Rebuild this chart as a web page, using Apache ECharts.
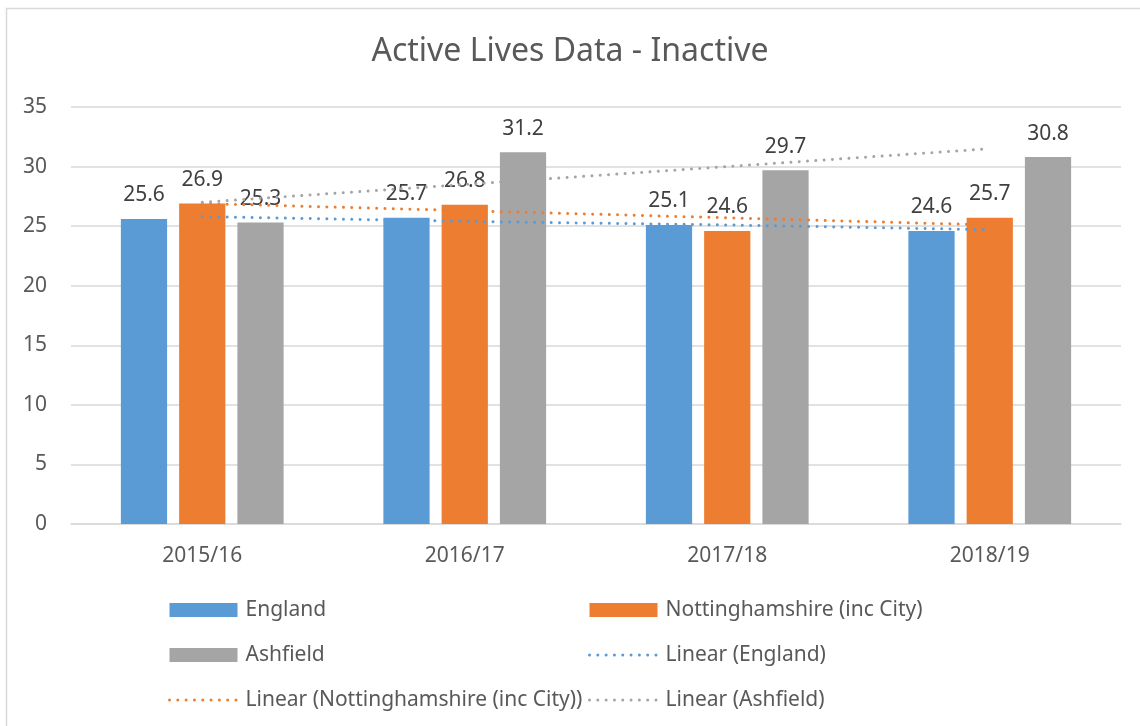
<!DOCTYPE html>
<html>
<head>
<meta charset="utf-8">
<title>Active Lives Data - Inactive</title>
<script src="https://cdn.jsdelivr.net/npm/echarts@6/dist/echarts.min.js"></script>
<style>
  html, body { margin: 0; padding: 0; background: #fff; }
  #activeLivesChart { width: 1140px; height: 726px; }
</style>
</head>
<body>
<div id="activeLivesChart"></div>
<script>
// 数据
const years = ['2015/16', '2016/17', '2017/18', '2018/19']
const england = [25.6, 25.7, 25.1, 24.6]
const notts = [26.9, 26.8, 24.6, 25.7]
const ashfield = [25.3, 31.2, 29.7, 30.8]
// trend lines
const trendEngland = [25.8, 25.4, 25.1, 24.7]
const trendNotts = [26.9, 26.3, 25.7, 25.1]
const trendAshfield = [27.0, 28.5, 30.0, 31.5]

const BLUE = '#5B9BD5'
const ORANGE = '#ED7D31'
const GREY = '#A5A5A5'
const FONT = 'Noto Sans'
const DOTS = [0.01, 8.3]

function barSeries (name, data, color) {
  return {
    name: name,
    type: 'bar',
    data: data,
    barGap: '26%',
    barCategoryGap: '38%',
    itemStyle: { color: color },
    label: {
      show: true,
      position: 'top',
      distance: 13,
      color: '#404040',
      fontSize: 21,
      fontFamily: FONT
    }
  }
}

function trendSeries (name, data, color) {
  return {
    name: name,
    type: 'line',
    data: data,
    symbol: 'none',
    silent: true,
    z: 3,
    lineStyle: {
      color: color,
      width: 3,
      type: DOTS,
      cap: 'round'
    },
    itemStyle: { color: color }
  }
}

// legend line items: hide the circle symbol, keep the dotted line
function lineItem (name, color) {
  return {
    name: name,
    itemStyle: { color: 'rgba(0,0,0,0)', borderWidth: 0 },
    lineStyle: { color: color, width: 3, type: DOTS, cap: 'round' }
  }
}

function barItem (name) {
  return { name: name, icon: 'rect' }
}

const legendText = {
  color: '#595959',
  fontSize: 21,
  fontFamily: FONT,
  lineHeight: 22,
  padding: [0, 0, 0, 3]
}

const option = {
  backgroundColor: '#fff',
  animation: false,
  title: {
    text: 'Active Lives Data - Inactive',
    left: 'center',
    top: 31,
    textStyle: {
      color: '#595959',
      fontSize: 32,
      fontWeight: 'normal',
      fontFamily: FONT
    }
  },
  graphic: [
    {
      type: 'rect',
      shape: { x: 6.5, y: 8.5, width: 1200, height: 800 },
      style: { fill: 'none', stroke: '#D9D9D9', lineWidth: 1.5 },
      silent: true
    }
  ],
  legend: [
    {
      orient: 'vertical',
      left: 163,
      top: 594,
      itemWidth: 68,
      itemHeight: 14,
      itemGap: 23,
      selectedMode: false,
      textStyle: legendText,
      data: [barItem('England'), barItem('Ashfield'), lineItem('Linear (Nottinghamshire (inc City))', ORANGE)]
    },
    {
      orient: 'vertical',
      left: 583,
      top: 594,
      itemWidth: 68,
      itemHeight: 14,
      itemGap: 23,
      selectedMode: false,
      textStyle: legendText,
      data: [barItem('Nottinghamshire (inc City)'), lineItem('Linear (England)', BLUE), lineItem('Linear (Ashfield)', GREY)]
    }
  ],
  grid: {
    left: 71,
    right: 19,
    top: 107,
    bottom: 202,
    containLabel: false
  },
  xAxis: {
    type: 'category',
    data: years,
    axisTick: { show: false },
    axisLine: { lineStyle: { color: '#D9D9D9', width: 1.5 } },
    axisLabel: {
      color: '#595959',
      fontSize: 21,
      fontFamily: FONT,
      margin: 22
    }
  },
  yAxis: {
    type: 'value',
    min: 0,
    max: 35,
    interval: 5,
    axisLine: { show: false },
    axisTick: { show: false },
    splitLine: { lineStyle: { color: '#D9D9D9', width: 1.5 } },
    axisLabel: {
      color: '#595959',
      fontSize: 21,
      fontFamily: FONT,
      margin: 24
    }
  },
  series: [
    barSeries('England', england, BLUE),
    barSeries('Nottinghamshire (inc City)', notts, ORANGE),
    barSeries('Ashfield', ashfield, GREY),
    trendSeries('Linear (England)', trendEngland, BLUE),
    trendSeries('Linear (Nottinghamshire (inc City))', trendNotts, ORANGE),
    trendSeries('Linear (Ashfield)', trendAshfield, GREY)
  ]
}

const myChart = echarts.init(document.getElementById('activeLivesChart'))
myChart.setOption(option)
window.addEventListener('resize', () => {
  myChart.resize()
})
</script>
</body>
</html>
